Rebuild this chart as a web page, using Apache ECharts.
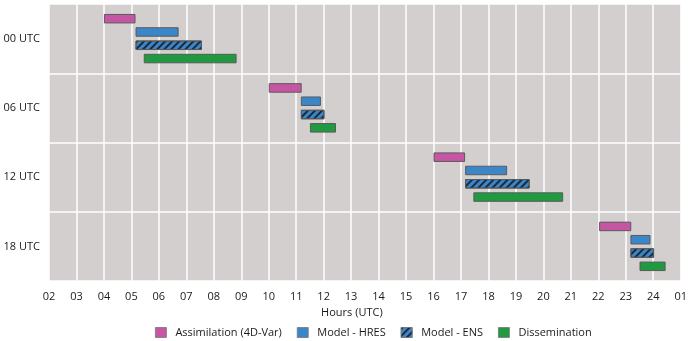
<!DOCTYPE html>
<html><head><meta charset="utf-8">
<script src="https://cdn.jsdelivr.net/npm/echarts@6/dist/echarts.min.js"></script>
<style>html,body{margin:0;padding:0;background:#fff}#c{width:690px;height:341px}</style>
</head><body><div id="c"></div>
<script>
const categories = ['00 UTC', '06 UTC', '12 UTC', '18 UTC'];
const hourLabels = ['02','03','04','05','06','07','08','09','10','11','12','13','14','15','16','17','18','19','20','21','22','23','24','01'];
const assimStart = [4.0, 10.0, 16.0, 22.03];
const assimEnd   = [5.15, 11.2, 17.15, 23.2];
const hresStart  = [5.15, 11.17, 17.15, 23.17];
const hresEnd    = [6.72, 11.9, 18.68, 23.9];
const ensStart   = [5.15, 11.17, 17.15, 23.17];
const ensEnd     = [7.57, 12.03, 19.5, 24.03];
const dissStart  = [5.45, 11.5, 17.45, 23.5];
const dissEnd    = [8.83, 12.45, 20.72, 24.45];

const FONT = 'Open Sans';
const FS = 11;
const TXT = '#1a1a1a';
const border = '#5a5a5a';
function pair(name, stack, starts, ends, style) {
  return [
    { name: stack + '_base', type: 'bar', stack: stack, silent: true, barWidth: 9.5, barGap: '40%',
      itemStyle: { color: 'rgba(0,0,0,0)' }, emphasis: { disabled: true },
      data: starts },
    { name: name, type: 'bar', stack: stack, barWidth: 9.5, barGap: '40%',
      itemStyle: style,
      data: ends.map((e, i) => +(e - starts[i]).toFixed(3)) }
  ];
}
const styles = {
  a: { color: '#c655a3', borderColor: border, borderWidth: 1 },
  h: { color: '#3a86c9', borderColor: border, borderWidth: 1 },
  e: { color: '#3a86c9', borderColor: border, borderWidth: 1,
       decal: { symbol: 'rect', symbolSize: 1, dashArrayX: [1, 0], dashArrayY: [2, 3], rotation: -Math.PI / 4, color: '#1b2a3c' } },
  d: { color: '#1f9a40', borderColor: border, borderWidth: 1 }
};
const series = [].concat(
  pair('Assimilation (4D-Var)', 'a', assimStart, assimEnd, styles.a),
  pair('Model - HRES', 'h', hresStart, hresEnd, styles.h),
  pair('Model - ENS', 'e', ensStart, ensEnd, styles.e),
  pair('Dissemination', 'd', dissStart, dissEnd, styles.d)
);
const chart = echarts.init(document.getElementById('c'), null, { renderer: 'canvas' });
chart.setOption({
  animation: false,
  textStyle: { fontFamily: FONT },
  grid: { left: 49, right: 9, top: 4, bottom: 60, show: true, backgroundColor: '#d3cfcf', borderWidth: 0 },
  legend: {
    data: ['Assimilation (4D-Var)', 'Model - HRES', 'Model - ENS', 'Dissemination'],
    left: 155, top: 327, padding: 0, icon: 'rect', itemWidth: 11, itemHeight: 10, itemGap: 15,
    itemStyle: { borderColor: '#777', borderWidth: 0.8 },
    textStyle: { fontFamily: FONT, fontSize: FS, color: TXT, padding: [0, 0, 0, 4] }
  },
  xAxis: {
    type: 'value', min: 2, max: 25, interval: 1,
    name: 'Hours (UTC)', nameLocation: 'middle', nameGap: 26,
    nameTextStyle: { fontFamily: FONT, fontSize: FS, color: TXT, padding: [0, 26, 0, 0] },
    axisLine: { show: false }, axisTick: { show: false },
    axisLabel: { margin: 10, fontSize: FS, color: TXT, fontFamily: FONT,
      formatter: v => hourLabels[Math.round(v) - 2] },
    splitLine: { show: true, lineStyle: { color: '#ffffff', width: 1.5 } }
  },
  yAxis: {
    type: 'category', data: categories, inverse: true,
    axisLine: { show: false }, axisTick: { show: false },
    axisLabel: { margin: 9, fontSize: FS, color: TXT, fontFamily: FONT, padding: [3, 0, 0, 0] },
    splitLine: { show: true, lineStyle: { color: '#ffffff', width: 1.5 } }
  },
  series: series
});
</script></body></html>
